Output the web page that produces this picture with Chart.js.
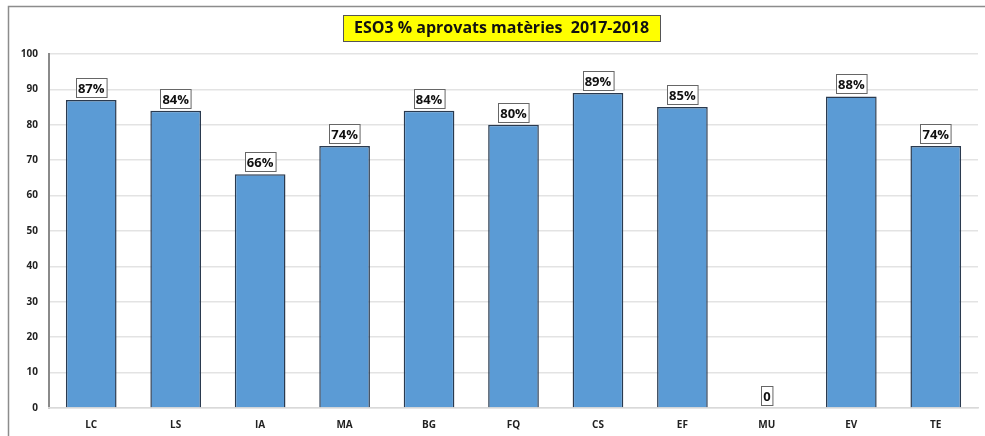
<!DOCTYPE html>
<html>
<head>
<meta charset="utf-8">
<script src="https://cdn.jsdelivr.net/npm/chart.js@4"></script>
<style>
  body { margin: 0; background: #fff; }
  #wrap { width: 985px; height: 436px; }
</style>
</head>
<body>
<div id="wrap"><canvas id="chart" width="985" height="436"></canvas></div>
<script>
// ESO3 pass rate per subject, 2017-2018
const subjects = ['LC', 'LS', 'IA', 'MA', 'BG', 'FQ', 'CS', 'EF', 'MU', 'EV', 'TE'];
const passRates = [87, 84, 66, 74, 84, 80, 89, 85, 0, 88, 74];
const valueLabels = ['87%', '84%', '66%', '74%', '84%', '80%', '89%', '85%', '0', '88%', '74%'];
const chartTitle = 'ESO3 % aprovats matèries  2017-2018';

const FONT = '"Open Sans", "Liberation Sans", sans-serif';

// frame + yellow title box
const framePlugin = {
    id: 'frame',
    beforeDraw(chart) {
        const ctx = chart.ctx;
        ctx.save();
        ctx.strokeStyle = '#8c8c8c';
        ctx.lineWidth = 1.5;
        ctx.strokeRect(8.5, 6.5, 990, 440);
        ctx.restore();
    },
    afterDraw(chart) {
        const ctx = chart.ctx;
        ctx.save();
        ctx.fillStyle = '#ffff00';
        ctx.fillRect(343, 15, 317, 26);
        ctx.strokeStyle = '#555';
        ctx.lineWidth = 1;
        ctx.strokeRect(343.5, 15.5, 317, 26);
        ctx.fillStyle = '#111';
        ctx.font = 'bold 16px ' + FONT;
        ctx.textAlign = 'center';
        ctx.textBaseline = 'middle';
        ctx.fillText(chartTitle, 501.5, 28.5);
        ctx.restore();
    }
};

// boxed value labels above each bar
const valueLabelPlugin = {
    id: 'valueLabels',
    afterDatasetsDraw(chart) {
        const ctx = chart.ctx;
        const meta = chart.getDatasetMeta(0);
        ctx.save();
        ctx.font = 'bold 13px ' + FONT;
        ctx.textAlign = 'center';
        ctx.textBaseline = 'middle';
        meta.data.forEach(function(bar, i) {
            const text = valueLabels[i];
            const w = ctx.measureText(text).width + 4;
            const h = 19;
            const x = Math.round(bar.x - w / 2) + 0.5;
            const y = Math.round(bar.y - 3 - h) + 0.5;
            ctx.fillStyle = '#fff';
            ctx.fillRect(x, y, w, h);
            ctx.strokeStyle = '#666';
            ctx.lineWidth = 1;
            ctx.strokeRect(x, y, w, h);
            ctx.fillStyle = '#111';
            ctx.fillText(text, bar.x, y + h / 2 + 1);
        });
        ctx.restore();
    }
};

new Chart(document.getElementById('chart').getContext('2d'), {
    type: 'bar',
    data: {
        labels: subjects,
        datasets: [{
            data: passRates,
            backgroundColor: '#5b9bd5',
            borderColor: '#2a3a4f',
            borderWidth: 1.5,
            barPercentage: 0.6,
            categoryPercentage: 1
        }]
    },
    options: {
        responsive: false,
        animation: false,
        layout: { padding: { top: 54, right: 7, bottom: 0, left: 0 } },
        plugins: {
            legend: { display: false },
            title: { display: false },
            tooltip: { enabled: false }
        },
        scales: {
            y: {
                min: 0,
                max: 100,
                ticks: {
                    stepSize: 10,
                    color: '#222',
                    font: { family: FONT, size: 10, weight: 'bold' },
                    padding: 11
                },
                grid: { color: '#e3e3e3', lineWidth: 1.5, drawTicks: false },
                border: { color: '#8a8a8a', width: 2 },
                afterFit(axis) { axis.width = 49; }
            },
            x: {
                ticks: {
                    color: '#222',
                    font: { family: FONT, size: 10, weight: 'bold' },
                    padding: 11
                },
                grid: { display: false, drawTicks: false },
                border: { color: '#d9d9d9', width: 1.5 },
                afterFit(axis) { axis.height = 28; }
            }
        }
    },
    plugins: [framePlugin, valueLabelPlugin]
});
</script>
</body>
</html>
